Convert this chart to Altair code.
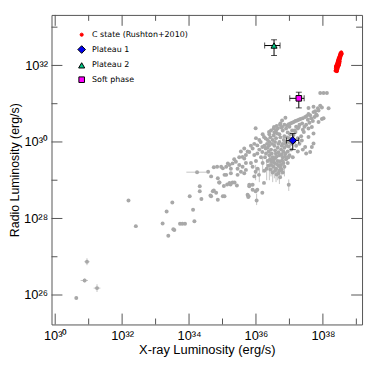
import altair as alt
import pandas as pd

# ---------------- data (log10 values) ----------------
# gray sample: (log10 Lx, log10 Lr)
GRAY = [
    (37.92, 31.28), (38.02, 31.28), (38.12, 31.28),
    (38.17, 30.88), (37.97, 30.90), (37.87, 30.82), (37.82, 30.69), (37.72, 30.78), (37.77, 30.80),
    (37.57, 30.73), (37.62, 30.70), (37.47, 30.65), (37.52, 30.68), (37.40, 30.62), (37.33, 30.60),
    (37.23, 30.56), (37.28, 30.58), (37.13, 30.52), (37.18, 30.55), (37.03, 30.48), (37.08, 30.50),
    (36.93, 30.43), (36.98, 30.46), (36.88, 30.63), (36.78, 30.56), (36.73, 30.48), (36.54, 30.39),
    (36.39, 30.26), (36.24, 30.13), (35.99, 30.36), (36.78, 30.39),
    (37.87, 30.52), (37.97, 30.60), (38.02, 30.62), (37.67, 30.39), (37.57, 30.35), (37.72, 30.22),
    (37.43, 30.26), (37.37, 30.04), (37.57, 30.13), (37.47, 29.87), (37.72, 29.96), (37.28, 30.39),
    (37.08, 30.30), (37.18, 30.26), (37.62, 29.74), (37.67, 29.87), (37.35, 30.15), (37.50, 30.45),
    (37.60, 30.50), (37.45, 30.40), (37.38, 30.48), (37.25, 30.35), (37.30, 30.45), (37.20, 30.40),
    (37.15, 30.30), (37.40, 30.32), (37.55, 30.58), (37.65, 30.62), (37.75, 30.65), (37.80, 30.72),
    (37.70, 30.55), (37.85, 30.88), (37.92, 30.95), (37.57, 30.89), (37.72, 30.92),
    (36.45, 30.30), (36.55, 30.25), (36.65, 30.35), (36.70, 30.20), (36.80, 30.30), (36.85, 30.15),
    (36.95, 30.25), (37.00, 30.10), (36.60, 30.10), (36.50, 30.05), (36.40, 30.00), (36.70, 30.00),
    (36.80, 29.95), (36.90, 30.00), (37.05, 29.95), (36.55, 29.90), (36.65, 29.85), (36.75, 29.80),
    (36.85, 29.85), (36.95, 29.75), (36.45, 29.80), (36.35, 29.85), (36.60, 29.70), (36.70, 29.65),
    (36.80, 29.60), (36.50, 29.60), (36.40, 29.65), (36.90, 29.55), (36.65, 29.50), (36.55, 29.45),
    (36.75, 29.40), (36.85, 29.35), (36.45, 29.40), (36.60, 29.30), (36.70, 29.25), (36.35, 29.50),
    (36.30, 29.70), (36.50, 29.20), (36.80, 29.20), (36.95, 29.45), (37.00, 29.65), (37.05, 29.80),
    (36.40, 30.20), (36.35, 30.05), (36.90, 30.35), (37.00, 30.40), (36.62, 30.42), (36.72, 30.45),
    (36.48, 29.95), (36.58, 29.58), (36.68, 29.38), (36.78, 29.52), (36.88, 29.70), (36.98, 29.88),
    (36.42, 29.55), (36.32, 29.30), (36.52, 29.35), (36.62, 29.15), (36.72, 29.08), (36.82, 29.45),
    (37.10, 29.60), (37.15, 30.00), (37.20, 29.90), (37.25, 30.10), (37.12, 30.18),
    (37.30, 29.95), (37.40, 29.80), (37.50, 29.70), (37.25, 29.75),
    (36.29, 30.09), (36.14, 30.00), (36.04, 29.91), (35.90, 29.83), (35.80, 29.74), (35.70, 29.66),
    (35.60, 29.61), (35.65, 29.83), (35.40, 29.48), (35.30, 29.44), (35.21, 29.40), (35.11, 29.35),
    (35.01, 29.31), (35.11, 29.14), (35.60, 29.35), (35.70, 29.27), (35.55, 29.22), (35.45, 29.14),
    (35.99, 29.22), (36.09, 29.14), (35.95, 29.10), (35.80, 28.88), (35.90, 28.75), (35.75, 28.62),
    (36.19, 28.67), (35.06, 28.58),
    (34.57, 29.22), (34.74, 29.34), (34.84, 29.35), (34.96, 29.35), (35.16, 29.44), (35.50, 29.40),
    (35.65, 29.57), (35.95, 29.66), (36.04, 29.70), (36.19, 29.74), (34.66, 29.10), (34.86, 29.05),
    (35.06, 29.14), (35.25, 29.18), (35.65, 29.18), (34.91, 28.94), (35.21, 28.93), (35.30, 28.94),
    (34.32, 28.84), (34.32, 28.71), (34.71, 28.71), (34.81, 28.67), (34.66, 28.58), (34.02, 28.58),
    (34.37, 28.51), (34.86, 28.49), (35.01, 28.58), (34.12, 28.23), (35.78, 28.58), (36.02, 28.47),
    (35.80, 28.84), (35.90, 28.88), (35.99, 28.71), (36.04, 28.75), (36.24, 28.93), (36.98, 28.88),
    (36.19, 29.87), (36.29, 29.83), (36.39, 29.91), (34.24, 29.21),
    (34.64, 28.60), (34.74, 28.73), (34.90, 28.94), (35.04, 28.85), (35.14, 28.89), (35.24, 28.89),
    (35.36, 28.94), (35.43, 28.86), (35.77, 28.56), (34.16, 27.93), (33.73, 27.86), (33.80, 27.86),
    (33.88, 27.86), (33.53, 27.72), (33.56, 27.70), (33.38, 27.55), (33.50, 28.42), (33.33, 28.18),
    (33.21, 27.87), (32.41, 27.80), (32.19, 28.47),
    (35.35, 29.55), (35.50, 29.60), (35.75, 29.75), (35.85, 29.90), (35.95, 29.95), (36.10, 29.80),
    (36.15, 29.60), (36.00, 29.50), (35.85, 29.45), (35.90, 29.35), (36.05, 29.30), (36.20, 29.45),
    (36.25, 29.25), (35.70, 29.45), (35.45, 29.30), (35.25, 29.30), (35.55, 29.75), (36.10, 30.05),
    (36.20, 30.20), (36.00, 30.10),
    # extra fill of the dense core
    (36.43, 30.12), (36.53, 30.17), (36.63, 30.22), (36.73, 30.12), (36.83, 30.05), (36.93, 30.12),
    (36.47, 29.70), (36.57, 29.78), (36.67, 29.73), (36.77, 29.68), (36.87, 29.62), (36.97, 29.60),
    (36.38, 29.75), (36.52, 29.52), (36.62, 29.62), (36.72, 29.48), (36.82, 29.75), (36.92, 29.90),
    (36.57, 30.00), (36.67, 29.95), (36.77, 29.90), (36.87, 29.95), (36.47, 29.48), (36.37, 29.38),
    (36.63, 29.42), (36.73, 29.33), (36.57, 29.25), (36.67, 29.18), (36.77, 29.28), (36.43, 29.28),
    (36.53, 30.35), (36.60, 30.30), (36.75, 30.38), (36.85, 30.45), (37.02, 30.20), (37.08, 30.05),
    (36.97, 30.00), (36.33, 29.95), (36.27, 29.60), (36.25, 29.90),
    (30.63, 25.92), (30.95, 26.87), (30.88, 26.38), (31.25, 26.18),
]

# gray vertical error bars: (log Lx, log Lr low, log Lr high)
GRAY_ERR_V = [
    (36.40, 29.00, 29.70), (36.55, 29.05, 29.75), (36.60, 28.95, 29.60), (36.70, 28.90, 29.55),
    (36.50, 28.95, 29.45), (36.32, 29.00, 29.55), (35.99, 29.00, 29.40), (36.02, 28.35, 28.65),
    (36.98, 28.72, 29.02), (36.45, 29.10, 29.60), (36.65, 29.00, 29.50), (36.75, 29.05, 29.45),
    (36.85, 29.10, 29.55), (36.20, 29.20, 29.60), (36.10, 28.95, 29.30),
    (30.95, 26.78, 26.96), (30.88, 26.33, 26.43), (31.25, 26.08, 26.28),
]
# gray horizontal error bars: (log Lr, log Lx low, log Lx high)
GRAY_ERR_H = [
    (29.21, 33.92, 34.52), (26.87, 30.87, 31.03), (26.38, 30.76, 30.98), (26.18, 31.15, 31.35),
]

# C state (Rushton+2010)
CSTATE_LX = [38.38, 38.40, 38.42, 38.39, 38.41, 38.43, 38.44, 38.40, 38.42, 38.45, 38.43, 38.46,
             38.44, 38.47, 38.45, 38.48, 38.46, 38.49, 38.47, 38.50, 38.48, 38.51, 38.50, 38.52,
             38.51, 38.53, 38.52, 38.54, 38.53, 38.55, 38.41, 38.44, 38.46, 38.48, 38.49, 38.50,
             38.39, 38.41, 38.55, 38.56]
CSTATE_LR = [31.86, 31.88, 31.85, 31.92, 31.95, 31.90, 31.96, 31.99, 32.02, 32.00, 32.05, 32.04,
             32.08, 32.07, 32.11, 32.10, 32.14, 32.13, 32.17, 32.16, 32.20, 32.19, 32.23, 32.22,
             32.26, 32.25, 32.29, 32.28, 32.32, 32.31, 31.89, 31.93, 31.98, 32.01, 32.06, 32.10,
             31.96, 32.00, 32.34, 32.30]

# Plateau / soft-phase points with error ranges
PHASES = ["Plateau 1", "Plateau 2", "Soft phase"]
PH_LX = [37.10, 36.54, 37.28]
PH_LX_LO = [36.91, 36.26, 37.01]
PH_LX_HI = [37.28, 36.72, 37.44]
PH_LR = [30.04, 32.52, 31.14]
PH_LR_LO = [29.80, 32.26, 30.89]
PH_LR_HI = [30.22, 32.67, 31.30]

CATS = ["C state (Rushton+2010)", "Plateau 1", "Plateau 2", "Soft phase"]
FILLS = ["#ff0000", "#0000ee", "#00c987", "#ff00ff"]
SHAPES = ["circle", "diamond", "triangle-up", "square"]
SIZES = [10, 60, 38, 32]
STROKES = ["#ff0000", "black", "black", "black"]

X_MAJOR = [30, 32, 34, 36, 38]
X_MINOR = [31, 33, 35, 37, 39]
Y_MAJOR = [26, 28, 30, 32]
Y_MINOR = [27, 29, 31, 33]
X_DOMAIN = [29.89, 39.17]
Y_DOMAIN = [25.23, 33.32]

# ---------------- tables ----------------
p = lambda v: 10.0 ** v
gray = pd.DataFrame({"lx": [p(a) for a, b in GRAY], "lr": [p(b) for a, b in GRAY]})
gerr_v = pd.DataFrame({"lx": [p(a) for a, b, c in GRAY_ERR_V],
                       "lo": [p(b) for a, b, c in GRAY_ERR_V],
                       "hi": [p(c) for a, b, c in GRAY_ERR_V]})
gerr_h = pd.DataFrame({"lr": [p(a) for a, b, c in GRAY_ERR_H],
                       "lo": [p(b) for a, b, c in GRAY_ERR_H],
                       "hi": [p(c) for a, b, c in GRAY_ERR_H]})
special = pd.DataFrame({
    "lx": [p(v) for v in CSTATE_LX] + [p(v) for v in PH_LX],
    "lr": [p(v) for v in CSTATE_LR] + [p(v) for v in PH_LR],
    "cat": [CATS[0]] * len(CSTATE_LX) + PHASES,
})
ph = pd.DataFrame({
    "lx": [p(v) for v in PH_LX], "lx_lo": [p(v) for v in PH_LX_LO], "lx_hi": [p(v) for v in PH_LX_HI],
    "lr": [p(v) for v in PH_LR], "lr_lo": [p(v) for v in PH_LR_LO], "lr_hi": [p(v) for v in PH_LR_HI],
})

W, H = 314, 313
FRAME = "#555555"

xs = alt.Scale(type="log", domain=[p(v) for v in X_DOMAIN], nice=False)
ys = alt.Scale(type="log", domain=[p(v) for v in Y_DOMAIN], nice=False)

SUP = "['⁰','¹','²','³','⁴','⁵','⁶','⁷','⁸','⁹']"
EXP = "round(log(datum.value)/LN10)"
LABEL_EXPR = f"'10' + {SUP}[floor({EXP}/10)] + {SUP}[{EXP}%10]"

xaxis = alt.Axis(values=[p(v) for v in X_MAJOR], labelExpr=LABEL_EXPR, grid=False, domain=False,
                 ticks=False, tickSize=0, labelPadding=5, labelFont="Liberation Sans",
                 labelFontSize=13, labelColor="black", title="X-ray Luminosity (erg/s)",
                 titleFont="Liberation Sans", titleFontSize=13, titleFontWeight="normal",
                 titleColor="black", titleBaseline="middle", titleY=25)
yaxis = alt.Axis(values=[p(v) for v in Y_MAJOR], labelExpr=LABEL_EXPR, grid=False, domain=False,
                 ticks=False, tickSize=0, labelPadding=4, labelFont="Liberation Sans",
                 labelFontSize=13, labelColor="black", title="Radio Luminosity (erg/s)",
                 titleFont="Liberation Sans", titleFontSize=12.5, titleFontWeight="normal",
                 titleColor="black", titleBaseline="middle", titleX=-37)

X = lambda f: alt.X(f, type="quantitative", scale=xs, axis=xaxis)
Y = lambda f: alt.Y(f, type="quantitative", scale=ys, axis=yaxis)

gray_v = alt.Chart(gerr_v).mark_rule(color="#c4c4c4", strokeWidth=1).encode(
    x=X("lx"), y=Y("lo"), y2="hi")
gray_h = alt.Chart(gerr_h).mark_rule(color="#c4c4c4", strokeWidth=1).encode(
    y=Y("lr"), x=X("lo"), x2="hi")
gray_pts = alt.Chart(gray).mark_circle(color="#a8a8a8", opacity=1, size=16).encode(
    x=X("lx"), y=Y("lr"))

err_y = alt.Chart(ph).mark_rule(color="black", strokeWidth=1).encode(x=X("lx"), y=Y("lr_lo"), y2="lr_hi")
err_x = alt.Chart(ph).mark_rule(color="black", strokeWidth=1).encode(y=Y("lr"), x=X("lx_lo"), x2="lx_hi")
cap_lo = alt.Chart(ph).mark_tick(orient="horizontal", size=6, thickness=1, color="black").encode(
    x=X("lx"), y=Y("lr_lo"))
cap_hi = alt.Chart(ph).mark_tick(orient="horizontal", size=6, thickness=1, color="black").encode(
    x=X("lx"), y=Y("lr_hi"))
cap_l = alt.Chart(ph).mark_tick(orient="vertical", size=6, thickness=1, color="black").encode(
    x=X("lx_lo"), y=Y("lr"))
cap_r = alt.Chart(ph).mark_tick(orient="vertical", size=6, thickness=1, color="black").encode(
    x=X("lx_hi"), y=Y("lr"))

leg = alt.Legend(title=None, orient="none", legendX=26, legendY=16, padding=0,
                 labelFont="DejaVu Sans", labelFontSize=8, labelColor="black",
                 labelOffset=6, rowPadding=4.5, symbolStrokeWidth=1)
special_pts = alt.Chart(special).mark_point(filled=True, opacity=1, strokeWidth=1).encode(
    x=X("lx"), y=Y("lr"),
    color=alt.Color("cat:N", scale=alt.Scale(domain=CATS, range=FILLS), legend=leg),
    fill=alt.Fill("cat:N", scale=alt.Scale(domain=CATS, range=FILLS), legend=leg),
    shape=alt.Shape("cat:N", scale=alt.Scale(domain=CATS, range=SHAPES), legend=leg),
    size=alt.Size("cat:N", scale=alt.Scale(type="ordinal", domain=CATS, range=SIZES), legend=leg),
    stroke=alt.Stroke("cat:N", scale=alt.Scale(domain=CATS, range=STROKES), legend=leg),
)

# tick marks drawn inward on all four sides
xmaj = pd.DataFrame({"v": [p(v) for v in X_MAJOR]})
xmin = pd.DataFrame({"v": [p(v) for v in X_MINOR]})
ymaj = pd.DataFrame({"v": [p(v) for v in Y_MAJOR]})
ymin = pd.DataFrame({"v": [p(v) for v in Y_MINOR]})
MAJ, MIN = 11, 6


def xticks(df, length):
    bottom = alt.Chart(df).mark_rule(color=FRAME, strokeWidth=1).encode(
        x=X("v"), y=alt.value(H), y2=alt.value(H - length))
    top = alt.Chart(df).mark_rule(color=FRAME, strokeWidth=1).encode(
        x=X("v"), y=alt.value(0), y2=alt.value(length))
    return [bottom, top]


def yticks(df, length):
    left = alt.Chart(df).mark_rule(color=FRAME, strokeWidth=1).encode(
        y=Y("v"), x=alt.value(0), x2=alt.value(length))
    right = alt.Chart(df).mark_rule(color=FRAME, strokeWidth=1).encode(
        y=Y("v"), x=alt.value(W), x2=alt.value(W - length))
    return [left, right]


layers = (xticks(xmaj, MAJ) + xticks(xmin, MIN) + yticks(ymaj, MAJ) + yticks(ymin, MIN)
          + [gray_v, gray_h, gray_pts, err_y, err_x, cap_lo, cap_hi, cap_l, cap_r, special_pts])

chart = alt.layer(*layers).properties(
    width=W, height=H,
    autosize=alt.AutoSizeParams(type="none"),
    padding={"left": 44, "top": 5, "right": 4, "bottom": 40},
    background="white",
).configure_view(stroke=FRAME, strokeWidth=1).configure_legend(
    padding=0
)

chart.save("out.html", embed_options={"renderer": "svg", "actions": False})
